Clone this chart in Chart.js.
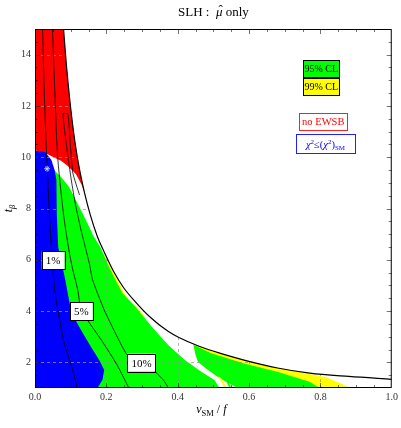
<!DOCTYPE html>
<html><head><meta charset="utf-8">
<script src="https://cdn.jsdelivr.net/npm/chart.js@4.4.0/dist/chart.umd.min.js"></script>
<style>html,body{margin:0;padding:0;background:#fff}#wrap{width:401px;height:428px;position:relative}</style>
</head><body><div id="wrap"><canvas id="c"></canvas></div>
<script>
// ---- axes ----
const xTicks = [0.0, 0.2, 0.4, 0.6, 0.8, 1.0];
const yTicks = [2, 4, 6, 8, 10, 12, 14];

// ---- outer (physical) boundary curve ----
const boundX = [0.080,0.088,0.097,0.107,0.118,0.128,0.139,0.155,0.175,0.194,0.220,0.249,0.282,0.320,0.374,0.402,0.460,0.520,0.586,0.680,0.770,0.880,1.000];
const boundY = [15.0,13.6,12.3,11.1,10.05,9.3,8.6,7.75,6.9,6.3,5.55,4.9,4.35,3.8,3.2,2.98,2.63,2.35,2.09,1.78,1.58,1.45,1.34];

// ---- no EWSB (red) lower edge, right to left ----
const redEdgeX = [0.130,0.115,0.092,0.074,0.055,0.037,0.0];
const redEdgeY = [8.95,9.34,9.66,9.85,9.98,10.11,10.27];

// ---- chi2 <= chi2_SM (blue) outline ----
const blueX = [0,0,0.028,0.046,0.055,0.060,0.061,0.065,0.085,0.102,0.129,0.157,0.180,0.194,0.189,0.175];
const blueY = [1,10.25,10.2,9.89,9.5,9.11,7.83,6.5,5.21,3.93,3.26,2.6,2.09,1.70,1.31,1.0];

// ---- 95% CL main region (green) upper / right edge ----
const greenAX = [0.05,0.075,0.095,0.112,0.13,0.148,0.165,0.185,0.205,0.226,0.245,0.282,0.328,0.374,0.42,0.466,0.503,0.517];
const greenAY = [9.55,9.2,8.85,8.4,7.9,7.4,6.9,6.45,5.8,5.2,4.7,4.16,3.38,2.67,2.09,1.63,1.31,1.0];

// ---- 99% CL thin strip along the green edge ----
const yStripX = [0.194,0.209,0.231,0.250,0.266,0.286,0.302,0.309,0.300,0.272,0.235,0.216,0.195,0.184];
const yStripY = [6.2,5.8,5.2,4.7,4.4,4.16,3.9,3.7,3.7,4.16,4.7,5.2,5.8,6.2];

// ---- 95% CL second region (green, lower right) ----
const greenBX = [0.444,0.494,0.586,0.679,0.770,0.798,0.568,0.540,0.512,0.485,0.457,0.450];
const greenBY = [2.69,2.36,1.96,1.63,1.24,1.0,1.0,1.2,1.44,1.7,2.01,2.3];
// 99% CL edge where it leaves the boundary
const yEdgeX = [0.72,0.817,0.886];
const yEdgeY = [1.68,1.415,1.0];
// small slivers in the white band
const ySliverX = [0.514,0.522,0.531,0.537,0.530,0.524,0.515];
const ySliverY = [1.46,1.38,1.18,1.0,1.0,1.2,1.40];
const gSliverX = [0.534,0.545,0.551,0.539];
const gSliverY = [1.32,1.0,1.0,1.32];

// ---- contour lines (Delta) ----
const c1X = [0.0213,0.0258,0.0319,0.036,0.0416,0.0485,0.0554,0.0706,0.0831,0.097,0.1094,0.1183];
const c1Y = [15.0,12.62,10.28,9.11,7.44,5.99,4.82,3.54,2.68,2.09,1.51,1.0];
const c5X = [0.049,0.0554,0.0623,0.0693,0.0831,0.1017,0.1199,0.130,0.1524,0.1911,0.2299,0.263];
const c5Y = [15.0,12.62,10.28,9.11,7.44,5.88,4.82,4.0,3.54,2.76,1.90,1.0];
const c10X = [0.374,0.360,0.338,0.299,0.2585,0.2307,0.194,0.1615,0.152,0.129,0.1136,0.1017,0.090,0.0784,0.0922,0.099,0.1061,0.1247];
const c10Y = [1.0,1.31,1.62,1.98,2.29,2.99,4.04,5.21,5.88,7.16,8.14,9.11,10.28,11.69,11.69,10.5,9.38,8.53];
const cLabels = ['1%','5%','10%'];
const cLabelX = [0.0507,0.130,0.2986];
const cLabelY = [5.98,3.99,1.99];

// best fit marker
const bestX = [0.034];
const bestY = [9.55];

// ---- styling ----
const SERIF = '"Liberation Serif","Times New Roman",serif';
const RED = '#ff0000', GREEN = '#00ff00', YELLOW = '#ffff00', BLUE = '#0000ff';

function P(xs, ys){ return xs.map((x,i)=>({x:x, y:ys[i]})); }
const boundPts = P(boundX, boundY);

function poly(data, color, order){
  return {data, showLine:true, fill:'shape', backgroundColor:color, borderColor:color,
          borderWidth:0, borderDash:[1,0], pointRadius:0, tension:0, order};
}
function curve(data, width, order, extra){
  return Object.assign({data, showLine:true, fill:false, borderColor:'#000', borderWidth:width,
          pointRadius:0, tension:0.3, order}, extra||{});
}

const redData = [{x:0,y:15}].concat(boundPts.filter(p=>p.y>=8.6), P(redEdgeX, redEdgeY));
const greenAData = [{x:0,y:1},{x:0,y:9.3}].concat(P(greenAX, greenAY));
const yBData = [{x:greenBX[0], y:greenBY[0]}].concat(
  boundPts.filter(p=>p.x>0.446 && p.x<0.72), P(yEdgeX, yEdgeY), P(greenBX.slice(6), greenBY.slice(6)));

const datasets = [
  poly(redData, RED, 20),
  poly(P(yStripX, yStripY), YELLOW, 19),
  poly(greenAData, GREEN, 18),
  poly(yBData, YELLOW, 17),
  poly(P(greenBX, greenBY), GREEN, 16),
  poly(P(ySliverX, ySliverY), YELLOW, 15),
  poly(P(gSliverX, gSliverY), GREEN, 14),
  poly(P(blueX, blueY), BLUE, 13),
  curve(boundPts, 1.2, 5, {isBoundary:true, cubicInterpolationMode:'monotone'}),
  curve(P(c1X, c1Y), 0.8, 4),
  curve(P(c5X, c5Y), 0.8, 4),
  curve(P(c10X, c10Y), 0.8, 4, {tension:0.15}),
  {data:P(bestX,bestY), showLine:false, pointStyle:'star', pointRadius:3, borderColor:'rgba(210,210,255,0.95)', borderWidth:1, backgroundColor:'rgba(0,0,0,0)', order:3}
];

function fnt(size, italic){ return (italic?'italic ':'') + size + 'px ' + SERIF; }
function richWidth(ctx, parts){ let w=0; for(const p of parts){ ctx.font=fnt(p.s,p.i); w+=ctx.measureText(p.t).width; } return w; }
function drawRich(ctx, parts, x, y){
  const w = richWidth(ctx, parts);
  let cx = x - w/2;
  ctx.textAlign='left'; ctx.textBaseline='alphabetic';
  for (const p of parts){
    ctx.font=fnt(p.s,p.i);
    const pw = ctx.measureText(p.t).width;
    ctx.fillText(p.t, cx, y+(p.dy||0));
    if (p.hat){
      ctx.font=fnt(p.s);
      const hw = ctx.measureText('\u02c6').width;
      ctx.fillText('\u02c6', cx + pw/2 - hw/2 + 1.5, y - 2.5);
    }
    cx += pw;
  }
  return w;
}

const annotations = [
  {x:0.8025, y:13.45, w:37, h:18, fill:GREEN, stroke:'#000', color:'#000', parts:[{t:'95% CL',s:10}]},
  {x:0.8025, y:12.74, w:37, h:18, fill:YELLOW, stroke:'#000', color:'#000', parts:[{t:'99% CL',s:10}]},
  {x:0.808, y:11.38, w:49, h:18, fill:'#fff', stroke:'#ff2020', color:'#ff0000', parts:[{t:'no EWSB',s:10.5}]},
  {x:0.8144, y:10.50, w:60, h:20, fill:'#fff', stroke:'#2020ff', color:'#0000ff',
   parts:[{t:'\u03c7',s:10.5,i:true},{t:'2',s:7,dy:-4},{t:'\u2264(',s:10.5},{t:'\u03c7',s:10.5,i:true},{t:'2',s:7,dy:-4},{t:')',s:10.5},{t:'SM',s:7,dy:2.5}]}
];

const deco = {
  id:'deco',
  beforeDatasetDraw(chart, args){
    const ds = chart.data.datasets[args.index];
    if (!ds.isBoundary) return;
    const ctx = chart.ctx, a = chart.chartArea, xs = chart.scales.x, ys = chart.scales.y;
    const pts = args.meta.data;
    ctx.save();
    ctx.beginPath();
    ctx.moveTo(a.left, a.top);
    ctx.lineTo(pts[0].x, a.top);
    for (const p of pts) ctx.lineTo(p.x, p.y);
    ctx.lineTo(a.right, a.bottom); ctx.lineTo(a.left, a.bottom); ctx.closePath();
    ctx.clip();
    ctx.strokeStyle='rgba(150,150,150,0.75)'; ctx.lineWidth=1; ctx.setLineDash([3,3]);
    for (const v of xTicks){ if (v<=0 || v>=1) continue; const px=Math.round(xs.getPixelForValue(v))+0.5; ctx.beginPath(); ctx.moveTo(px,a.bottom); ctx.lineTo(px,a.top); ctx.stroke(); }
    for (const v of yTicks){ const py=Math.round(ys.getPixelForValue(v))+0.5; ctx.beginPath(); ctx.moveTo(a.left,py); ctx.lineTo(a.right,py); ctx.stroke(); }
    ctx.restore();
  },
  afterDatasetsDraw(chart){
    const ctx = chart.ctx, a = chart.chartArea, xs = chart.scales.x, ys = chart.scales.y;
    ctx.save();
    // ticks (inward, all four sides)
    ctx.strokeStyle='rgba(0,0,0,0.55)'; ctx.lineWidth=1; ctx.setLineDash([]);
    const ln=(x1,y1,x2,y2)=>{ctx.beginPath();ctx.moveTo(x1,y1);ctx.lineTo(x2,y2);ctx.stroke();};
    for (let i=1;i<20;i++){ const v=i*0.05; const L=(i%4===0)?5:3; const px=Math.round(xs.getPixelForValue(v))+0.5; ln(px,a.bottom,px,a.bottom-L); ln(px,a.top,px,a.top+L); }
    for (let i=1;i<28;i++){ const v=1+i*0.5; const L=(v%2===0)?5:3; const py=Math.round(ys.getPixelForValue(v))+0.5; ln(a.left,py,a.left+L,py); ln(a.right,py,a.right-L,py); }
    // frame
    ctx.strokeStyle='#000'; ctx.lineWidth=1;
    ctx.strokeRect(a.left+0.5, a.top+0.5, a.right-a.left-1, a.bottom-a.top-1);
    // contour labels
    for (let i=0;i<cLabels.length;i++){
      const cx=xs.getPixelForValue(cLabelX[i]), cy=ys.getPixelForValue(cLabelY[i]);
      ctx.font=fnt(11); const w=ctx.measureText(cLabels[i]).width+8, h=18;
      ctx.fillStyle='#fff'; ctx.fillRect(cx-w/2, cy-h/2, w, h);
      ctx.strokeStyle='#000'; ctx.strokeRect(Math.round(cx-w/2)+0.5, Math.round(cy-h/2)+0.5, Math.round(w), h);
      ctx.fillStyle='#000'; ctx.textAlign='center'; ctx.textBaseline='alphabetic';
      ctx.fillText(cLabels[i], cx, cy+4);
    }
    // legend-like annotations
    for (const an of annotations){
      const cx=xs.getPixelForValue(an.x), cy=ys.getPixelForValue(an.y);
      const l=Math.round(cx-an.w/2), t=Math.round(cy-an.h/2);
      ctx.fillStyle=an.fill; ctx.fillRect(l,t,an.w,an.h);
      ctx.strokeStyle=an.stroke; ctx.strokeRect(l+0.5,t+0.5,an.w-1,an.h-1);
      ctx.fillStyle=an.color; drawRich(ctx, an.parts, cx, cy+3.5);
    }
    // titles
    ctx.fillStyle='#000';
    const mx=(a.left+a.right)/2, my=(a.top+a.bottom)/2;
    drawRich(ctx, [{t:'SLH :  ',s:13},{t:'\u03bc',s:13,i:true,hat:true},{t:' only',s:13}], mx, 16);
    drawRich(ctx, [{t:'v',s:12,i:true},{t:'SM',s:8.5,dy:3},{t:' / ',s:12},{t:'f',s:12,i:true}], mx-2, 413);
    ctx.save(); ctx.translate(12, my); ctx.rotate(-Math.PI/2);
    drawRich(ctx, [{t:'t',s:12,i:true},{t:'\u03b2',s:8.5,i:true,dy:3}], 0, 0);
    ctx.restore();
    ctx.restore();
  }
};

new Chart(document.getElementById('c'), {
  type:'scatter',
  data:{datasets},
  options:{
    responsive:true, maintainAspectRatio:false, animation:false, devicePixelRatio:1,
    layout:{padding:{top:29, right:5, left:0, bottom:0}},
    plugins:{legend:{display:false}, tooltip:{enabled:false}, title:{display:false}},
    scales:{
      x:{type:'linear', min:0, max:1,
         afterBuildTicks:s=>{ s.ticks = xTicks.map(v=>({value:v})); },
         afterFit:s=>{ s.height=40; },
         grid:{display:false, drawTicks:false}, border:{display:false},
         ticks:{padding:3, color:'#333', autoSkip:false, maxRotation:0, font:{family:SERIF, size:10},
                callback:v=>Number(v).toFixed(1)}},
      y:{type:'linear', min:1, max:15,
         afterBuildTicks:s=>{ s.ticks = yTicks.map(v=>({value:v})); },
         afterFit:s=>{ s.width=35; },
         grid:{display:false, drawTicks:false}, border:{display:false},
         ticks:{padding:4, color:'#333', autoSkip:false, font:{family:SERIF, size:10},
                callback:v=>String(v)}}
    }
  },
  plugins:[deco]
});
</script></body></html>
